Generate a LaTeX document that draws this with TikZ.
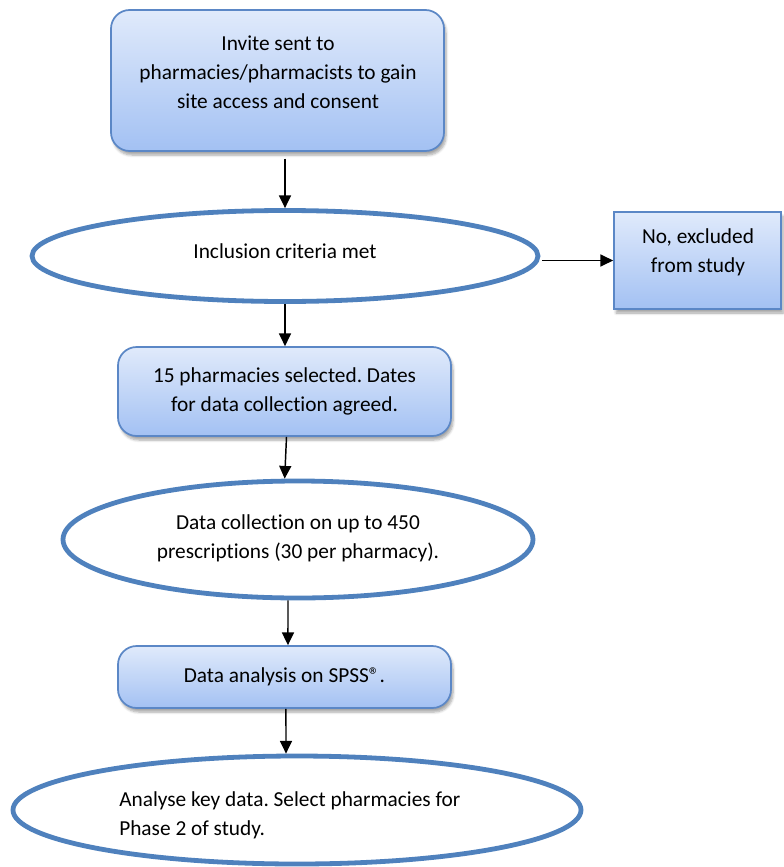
\documentclass[tikz,border=0pt]{standalone}
\usepackage{fontspec}
\setmainfont[Ligatures=NoCommon]{Carlito}
\frenchspacing
\usetikzlibrary{shapes.geometric,arrows.meta,shadows.blur}
\definecolor{edgeblue}{HTML}{4F81BD}
\definecolor{boxline}{HTML}{5B87C6}
\definecolor{filltop}{HTML}{E0EAFB}
\definecolor{fillbottom}{HTML}{A3C1F3}
\tikzset{
  stepbox/.style={draw=boxline, line width=1.3pt, top color=filltop, bottom color=fillbottom,
    blur shadow={shadow xshift=1.5pt, shadow yshift=-3pt, shadow blur steps=6, shadow opacity=35},
    inner sep=0pt},
  roundbox/.style={stepbox, rounded corners=14pt},
  oval/.style={draw=edgeblue, line width=3.6pt, fill=white, ellipse, inner sep=0pt},
  label text/.style={align=center, font=\fontsize{16pt}{21.75pt}\selectfont, inner sep=0pt},
  flow/.style={draw=black, line width=1.1pt, -{Triangle[width=9pt,length=9.5pt]}}
}
\begin{document}
\begin{tikzpicture}[x=0.75pt,y=-0.75pt]
\useasboundingbox (0,0) rectangle (784,867);

% boxes and ovals
\node[roundbox, minimum width=249.75pt, minimum height=105.75pt] (invite) at (277.5,80.5) {};
\node[label text] (invitetext) at (278,72) {Invite sent to\\pharmacies/pharmacists to gain\\site access and consent};

\node[oval, minimum width=379.5pt, minimum height=68.25pt] (incl) at (285,256) {};
\node[label text] (incltext) at (285,251) {Inclusion criteria met};

\node[stepbox, minimum width=125.25pt, minimum height=72.75pt] (exclude) at (697.5,260.5) {};
\node[label text] (excludetext) at (698,252) {No, excluded\\from study};

\node[roundbox, label text, minimum width=249.75pt, minimum height=66.75pt] (select) at (284.5,391.5)
  {15 pharmacies selected. Dates\\for data collection agreed.};

\node[oval, minimum width=352.5pt, minimum height=87.75pt] (coll) at (298,539.5) {};
\node[label text] (colltext) at (298,538) {Data collection on up to 450\\prescriptions (30 per pharmacy).};

\node[roundbox, label text, minimum width=249.75pt, minimum height=46.5pt] (analysis) at (284.5,677)
  {Data analysis on SPSS®.};

\node[oval, minimum width=426pt, minimum height=81pt] (final) at (297,810) {};
\node[label text, align=left, anchor=west] (finaltext) at (119,815) {Analyse key data. Select pharmacies for\\Phase 2 of study.};

% connectors
\draw[flow, shorten <=5pt] (invite.south -| incl.north) -- (incl.north);
\draw[flow] ([xshift=1.5pt]incl.east |- exclude.west) -- (exclude.west);
\draw[flow] (incl.south) -- (select.north -| incl.south);
\draw[flow] ([xshift=1.5pt]select.south) -- ([xshift=-10pt]coll.north);
\draw[flow] ([xshift=-7.5pt]coll.south) -- ([xshift=2.6pt]analysis.north);
\draw[flow] ([xshift=1.1pt]analysis.south) -- ([xshift=-8.25pt]final.north);
\end{tikzpicture}
\end{document}
